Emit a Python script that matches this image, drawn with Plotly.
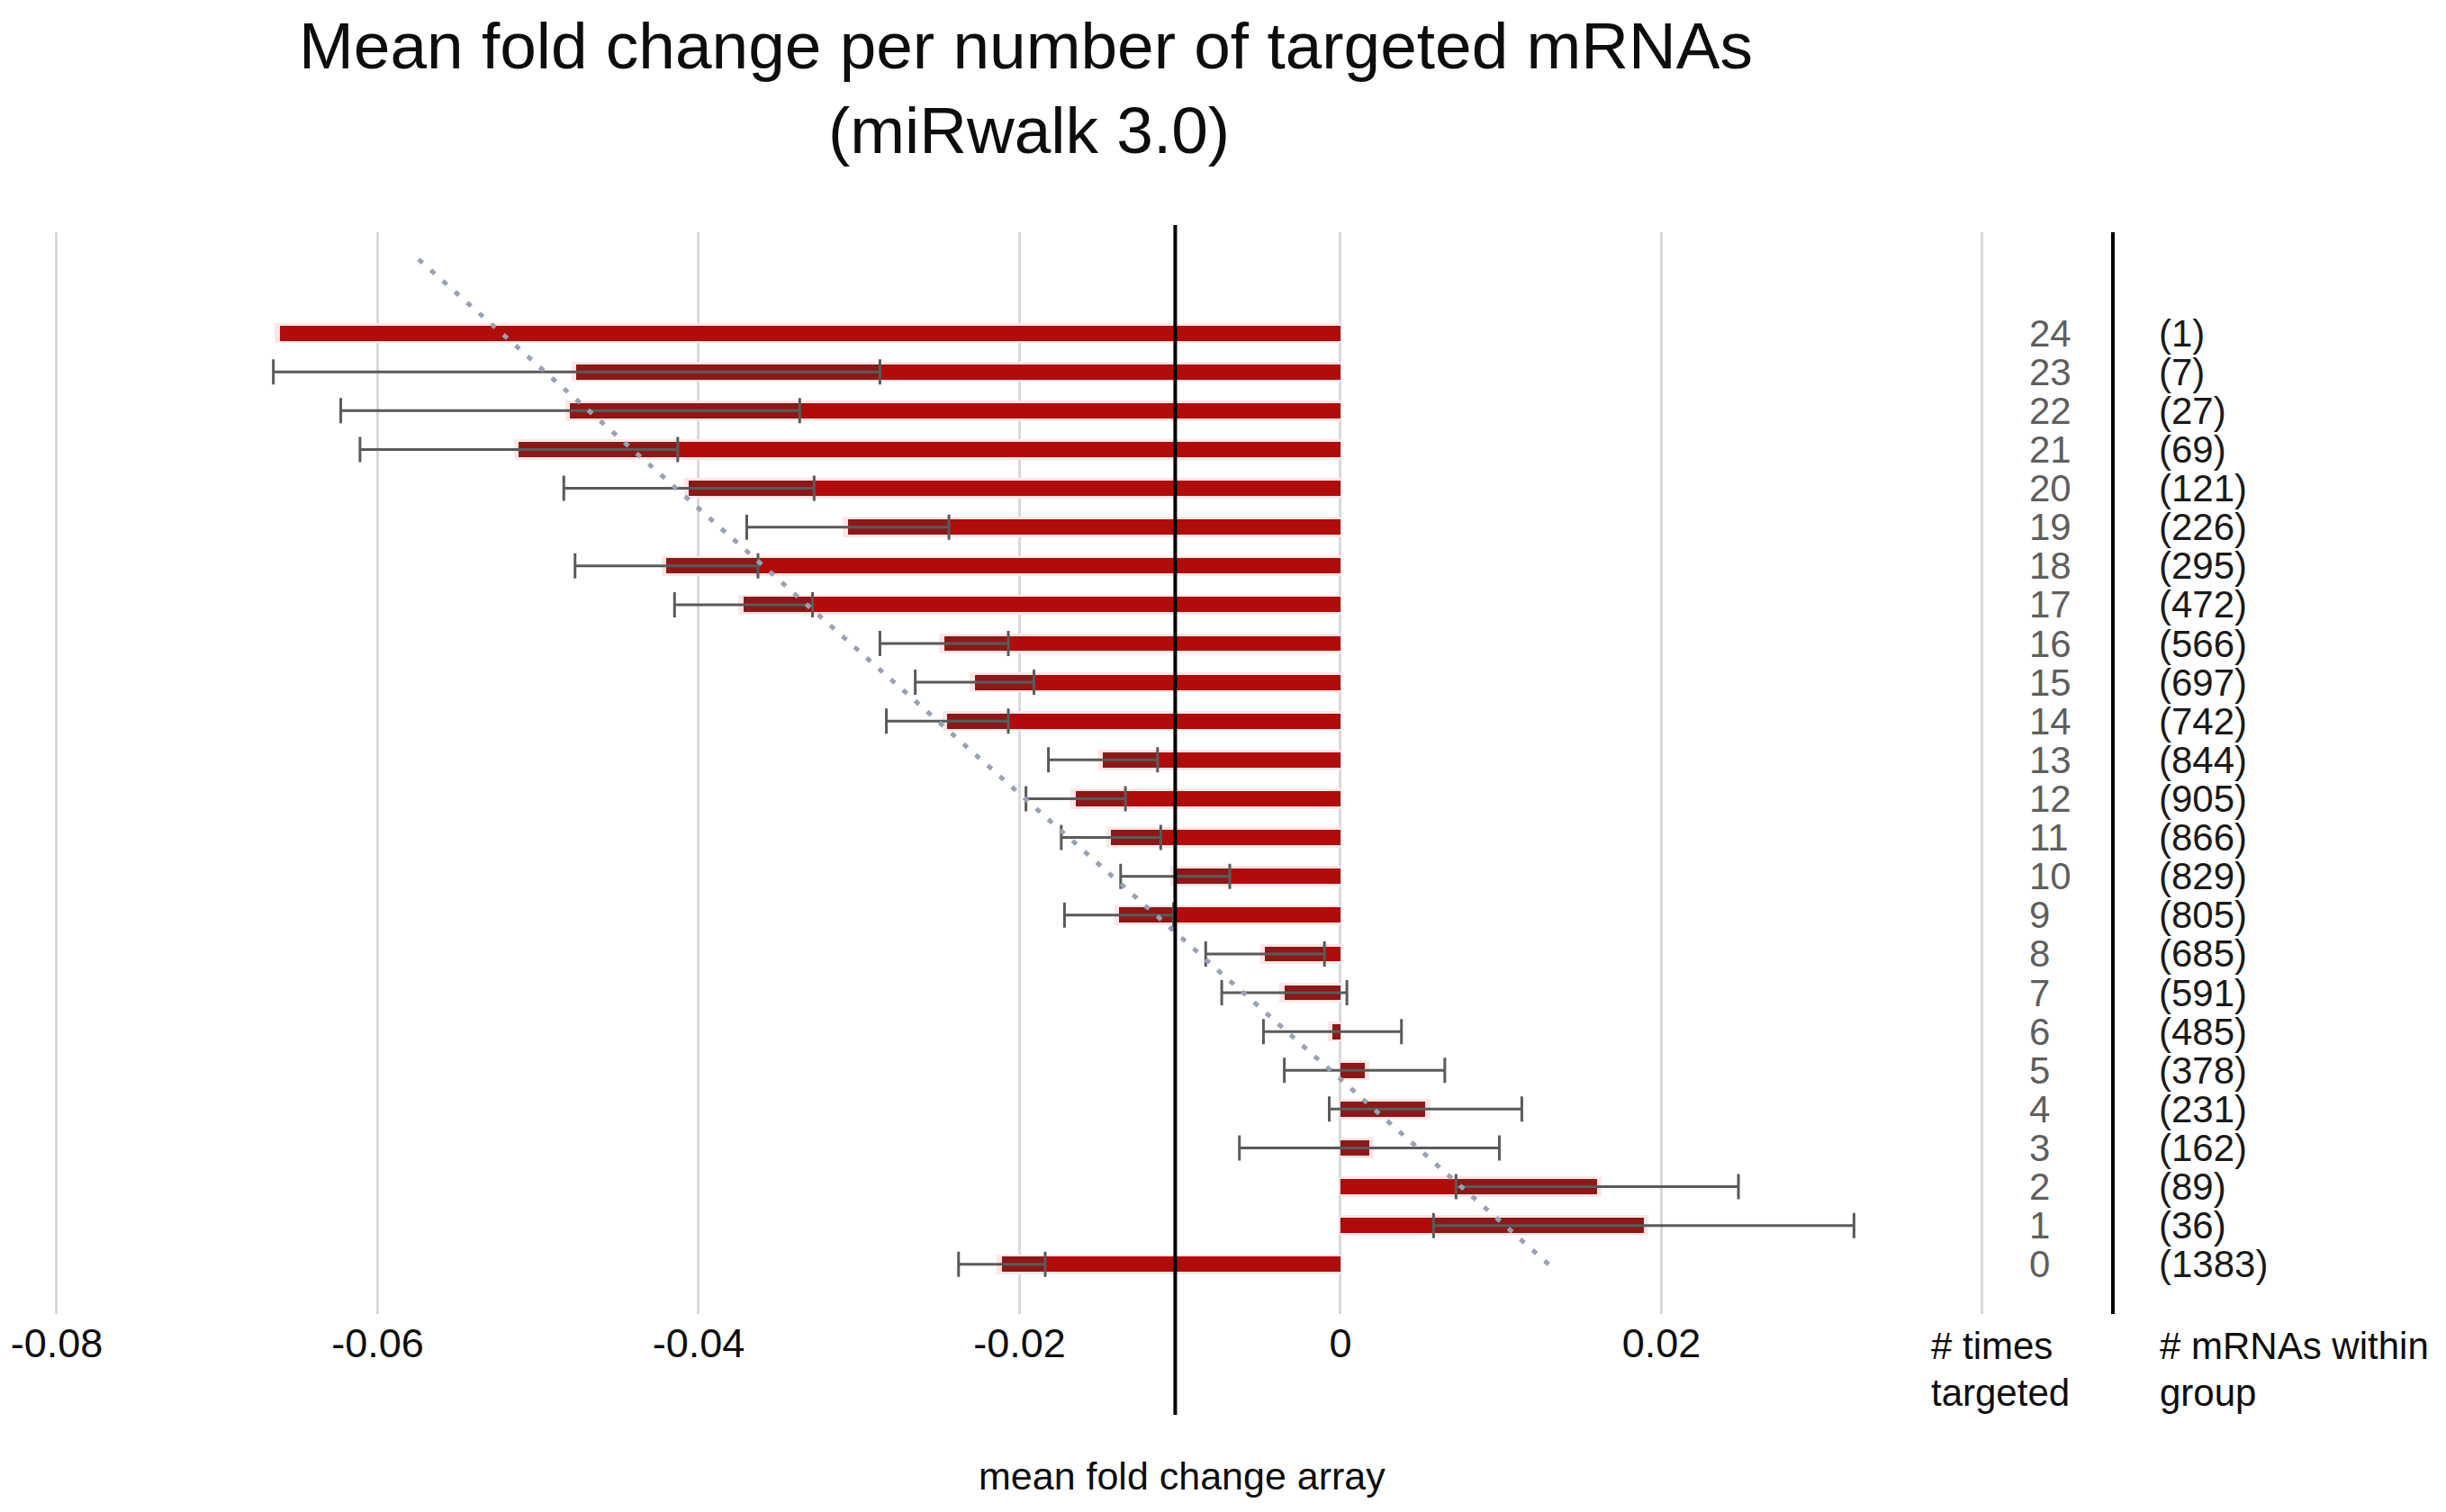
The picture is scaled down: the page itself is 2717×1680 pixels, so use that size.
import numpy as np
import plotly.graph_objects as go

# ---------------- data ----------------
times_targeted = list(range(25))  # 0 .. 24
mean_fold_change = [-0.0211, 0.0189, 0.0160, 0.0018, 0.0053, 0.0015, -0.0005, -0.0035,
                    -0.0047, -0.0138, -0.0103, -0.0143, -0.0165, -0.0148, -0.0245, -0.0228,
                    -0.0247, -0.0372, -0.0420, -0.0307, -0.0406, -0.0512, -0.0480, -0.0476,
                    -0.0661]
error_values = [0.0027, 0.0131, 0.0088, 0.0081, 0.0060, 0.0050, 0.0043, 0.0039,
                0.0037, 0.0034, 0.0034, 0.0031, 0.0031, 0.0034, 0.0038, 0.0037,
                0.0040, 0.0043, 0.0057, 0.0063, 0.0078, 0.0099, 0.0143, 0.0189,
                None]
mrna_counts = [1383, 36, 89, 162, 231, 378, 485, 591, 685, 805, 829, 866, 905, 844,
               742, 697, 566, 472, 295, 226, 121, 69, 27, 7, 1]
mean_line_value = -0.0103
trend_forward_periods = 2
x_tick_values = [-0.08, -0.06, -0.04, -0.02, 0, 0.02, 0.04]
x_tick_labels = ["-0.08", "-0.06", "-0.04", "-0.02", "0", "0.02", ""]
title_line1 = "Mean fold change per number of targeted mRNAs"
title_line2 = "(miRwalk 3.0)"
x_title = "mean fold change array"
left_header = ["# times", "targeted"]
right_header = ["# mRNAs within", "group"]

# ---------------- layout helpers ----------------
W, H = 2717, 1680          # window size
OFF = 8                    # default page body margin
FW, FH = W - 2 * OFF, H - 2 * OFF   # figure size
FONT = "Liberation Sans, Arial, sans-serif"

X_RANGE = [-0.0805, 0.0405]
ZERO_PX, PX_PER_UNIT = 1489.0, 17825.0   # window pixel of value 0, pixels per unit


def px(p):
    """window pixel x -> paper fraction"""
    return (p - OFF) / FW


def py(p):
    """window pixel y -> paper fraction"""
    return 1 - (p - OFF) / FH


x_domain = [px(ZERO_PX + X_RANGE[0] * PX_PER_UNIT), px(ZERO_PX + X_RANGE[1] * PX_PER_UNIT)]

# ---------------- derived series ----------------
cats = np.array(times_targeted, dtype=float)
vals = np.array(mean_fold_change, dtype=float)
errs = np.array([np.nan if e is None else e for e in error_values], dtype=float)

# darker band = part of the bar covered by the error range
dark_base, dark_len, dark_y = [], [], []
for c, v, e in zip(cats, vals, errs):
    if np.isnan(e):
        continue
    if v < 0:
        a, b = v, min(v + e, 0.0)
    else:
        a, b = max(v - e, 0.0), v
    if b > a:
        dark_base.append(a)
        dark_len.append(b - a)
        dark_y.append(c)

has_err = ~np.isnan(errs)

# soft halo around the bars
halo = vals + np.sign(vals) * 0.0003

# linear trendline (Excel style, forecast forward)
slope, intercept = np.polyfit(cats, vals, 1)
trend_y = np.array([cats.min(), cats.max() + trend_forward_periods])
trend_x = slope * trend_y + intercept

fig = go.Figure()

fig.add_trace(go.Bar(
    y=cats, x=halo, orientation="h", width=0.52,
    marker=dict(color="#fde6e6", line=dict(width=0)),
    hoverinfo="skip", showlegend=False))

fig.add_trace(go.Bar(
    y=cats, x=vals, orientation="h", width=0.39,
    marker=dict(color="#b10c0c", line=dict(width=0)),
    name="mean fold change", showlegend=False))

fig.add_trace(go.Bar(
    y=dark_y, x=dark_len, base=dark_base, orientation="h", width=0.39,
    marker=dict(color="#8c1818", line=dict(width=0)),
    hoverinfo="skip", showlegend=False))

fig.add_trace(go.Scatter(
    y=cats[has_err], x=vals[has_err], mode="markers",
    marker=dict(size=1, opacity=0),
    error_x=dict(type="data", array=errs[has_err].tolist(),
                 symmetric=True, color="#5a5a5a", thickness=3, width=14),
    hoverinfo="skip", showlegend=False))

fig.add_trace(go.Scatter(
    y=trend_y, x=trend_x, mode="lines",
    line=dict(color="#98a2b5", width=5, dash="6px,12px"),
    hoverinfo="skip", showlegend=False))

annotations = [
    dict(text=title_line1, x=px(1139), y=py(51), xref="paper", yref="paper",
         xanchor="center", yanchor="middle", showarrow=False,
         font=dict(family=FONT, size=73, color="#0d0d0d")),
    dict(text=title_line2, x=px(1143), y=py(144), xref="paper", yref="paper",
         xanchor="center", yanchor="middle", showarrow=False,
         font=dict(family=FONT, size=73, color="#0d0d0d")),
    dict(text=x_title, x=px(1313), y=py(1640), xref="paper", yref="paper",
         xanchor="center", yanchor="middle", showarrow=False,
         font=dict(family=FONT, size=43, color="#0d0d0d")),
    dict(text=left_header[0], x=px(2143), y=py(1495), xref="paper", yref="paper",
         xanchor="left", yanchor="middle", showarrow=False,
         font=dict(family=FONT, size=42, color="#0d0d0d")),
    dict(text=left_header[1], x=px(2143), y=py(1547), xref="paper", yref="paper",
         xanchor="left", yanchor="middle", showarrow=False,
         font=dict(family=FONT, size=42, color="#0d0d0d")),
    dict(text=right_header[0], x=px(2397), y=py(1495), xref="paper", yref="paper",
         xanchor="left", yanchor="middle", showarrow=False,
         font=dict(family=FONT, size=42, color="#0d0d0d")),
    dict(text=right_header[1], x=px(2397), y=py(1547), xref="paper", yref="paper",
         xanchor="left", yanchor="middle", showarrow=False,
         font=dict(family=FONT, size=42, color="#0d0d0d")),
]
for c, n in zip(times_targeted, mrna_counts):
    annotations.append(dict(text=str(c), x=px(2252), y=c, xref="paper", yref="y",
                            xanchor="left", yanchor="middle", showarrow=False,
                            font=dict(family=FONT, size=42, color="#5f5f5f")))
    annotations.append(dict(text="(%d)" % n, x=px(2396), y=c, xref="paper", yref="y",
                            xanchor="left", yanchor="middle", showarrow=False,
                            font=dict(family=FONT, size=42, color="#1a1a1a")))

shapes = [
    dict(type="line", xref="x", yref="paper", x0=mean_line_value, x1=mean_line_value,
         y0=py(1572), y1=py(250), line=dict(color="#000000", width=4), layer="above"),
    dict(type="line", xref="paper", yref="paper", x0=px(2347), x1=px(2347),
         y0=py(1460), y1=py(258), line=dict(color="#000000", width=4), layer="above"),
]

fig.update_layout(
    width=FW, height=FH,
    autosize=False,
    margin=dict(l=0, r=0, t=0, b=0, pad=0),
    paper_bgcolor="white", plot_bgcolor="white",
    barmode="overlay", bargap=0,
    showlegend=False,
    annotations=annotations,
    shapes=shapes,
    xaxis=dict(
        domain=x_domain, range=X_RANGE,
        tickvals=x_tick_values, ticktext=x_tick_labels,
        showgrid=True, gridcolor="#d9d9d9", gridwidth=2.5,
        zeroline=False, showline=False, ticks="",
        tickfont=dict(family=FONT, size=45, color="#0d0d0d"),
        ticklabelstandoff=2, automargin=False,
    ),
    yaxis=dict(
        domain=[py(1460), py(258)], range=[-1.28, 26.6],
        showgrid=False, zeroline=False, showline=False,
        showticklabels=False, ticks="", automargin=False,
    ),
)

fig.write_html("out.html")
